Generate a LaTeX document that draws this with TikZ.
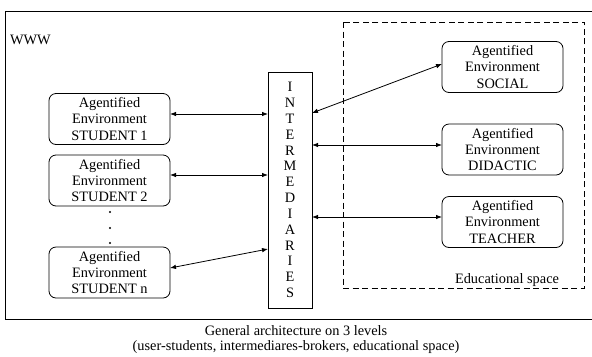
\documentclass[tikz,border=0pt]{standalone}
\usepackage{fontspec}
\setmainfont{Liberation Serif}
\usetikzlibrary{arrows.meta,calc}
\begin{document}
\begin{tikzpicture}[x=1bp,y=-1bp,
  every node/.style={inner sep=0pt,outer sep=0pt},
  envbox/.style={draw,line width=0.8bp,rounded corners=7bp,minimum width=121bp,minimum height=51bp,
    align=center,font=\fontsize{14.4}{16.5}\selectfont},
  brokerbox/.style={draw,line width=0.8bp,minimum width=44bp,minimum height=236bp,
    align=center,font=\fontsize{14.4}{15.9}\selectfont},
  lbl/.style={font=\fontsize{14.4}{15}\selectfont,align=center},
  arr/.style={line width=0.8bp,{Latex[length=6bp,width=4.5bp]}-{Latex[length=6bp,width=4.5bp]}}]
  \useasboundingbox (0,0) rectangle (592,356);
  \fill[white] (0,0) rectangle (592,356);

  % WWW frame (open on the right)
  \draw[line width=0.8bp] (595,11) -- (5,11) -- (5,319) -- (595,319);
  \node[lbl,anchor=west] (www) at (10,40) {WWW};

  % educational space
  \draw[line width=0.8bp,dash pattern=on 6bp off 3.5bp] (343,22) rectangle (584,288);
  \node[lbl] (edu) at (507,280) {Educational space};

  % students
  \node[envbox] (s1) at (109.5,119) {Agentified\\Environment\\STUDENT 1};
  \node[envbox] (s2) at (109.5,180.5) {Agentified\\Environment\\STUDENT 2};
  \node[envbox] (sn) at (109.5,272.5) {Agentified\\Environment\\STUDENT n};
  \foreach \yy in {212,228,243} \fill (110,\yy) circle (1.2bp);

  % intermediaries
  \node[brokerbox] (inter) at (290,190) {I\\N\\T\\E\\R\\M\\E\\D\\I\\A\\R\\I\\E\\S};

  % educational environments
  \node[envbox] (soc) at (502.5,67) {Agentified\\Environment\\SOCIAL};
  \node[envbox] (did) at (502.5,149.5) {Agentified\\Environment\\DIDACTIC};
  \node[envbox] (tea) at (502.5,222) {Agentified\\Environment\\TEACHER};

  % connectors
  \draw[arr] ([yshift=5bp]s1.east) -- ([yshift=5bp]s1.east -| inter.west);
  \draw[arr] ([yshift=5.5bp]s2.east) -- ([yshift=5.5bp]s2.east -| inter.west);
  \draw[arr] ([yshift=4.5bp]sn.east) -- ([yshift=-59bp]inter.west);
  \draw[arr] ([yshift=77bp]inter.east) -- ([yshift=3bp]soc.west);
  \draw[arr] ([yshift=4.5bp]did.west -| inter.east) -- ([yshift=4.5bp]did.west);
  \draw[arr] ([yshift=5bp]tea.west -| inter.east) -- ([yshift=5bp]tea.west);

  % caption
  \node[lbl] (cap) at (296,339.5) {General architecture on 3 levels\\(user-students, intermediares-brokers, educational space)};
\end{tikzpicture}
\end{document}
